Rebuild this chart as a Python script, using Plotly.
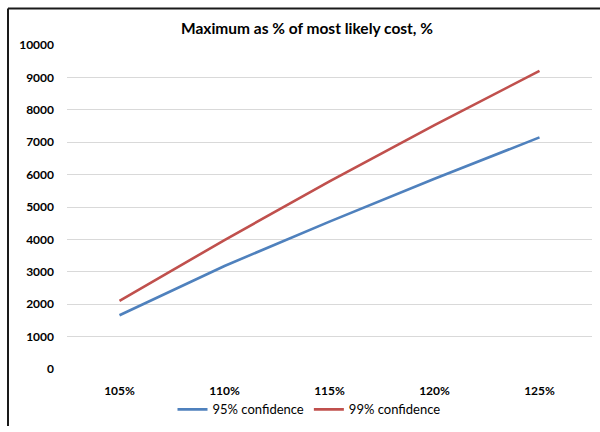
import plotly.graph_objects as go

# Allowance levels and the resulting maximum cost
categories = ["105%", "110%", "115%", "120%", "125%"]
conf_95 = [1660, 3180, 4550, 5870, 7150]
conf_99 = [2100, 3980, 5790, 7530, 9200]
y_ticks = list(range(0, 10001, 1000))

W, H = 600, 432
L, R, T, B = 67, 8, 45, 58
plot_w = W - L - R
plot_h = H - T - B


def px_x(x):
    return (x - L) / plot_w


def px_y(y):
    return (H - B - y) / plot_h


fig = go.Figure()
fig.add_trace(go.Scatter(x=categories, y=conf_95, mode="lines", name="95% confidence",
                         line=dict(color="#4f81bd", width=2.6)))
fig.add_trace(go.Scatter(x=categories, y=conf_99, mode="lines", name="99% confidence",
                         line=dict(color="#c0504d", width=2.6)))

font_family = "Lato, 'Open Sans', sans-serif"

# chart-area frame: only its left and top edges fall inside the page
frame = dict(color="#1a1a1a", width=2)
fig.update_layout(
    width=W, height=H,
    margin=dict(l=L, r=R, t=T, b=B),
    paper_bgcolor="white", plot_bgcolor="white",
    showlegend=True,
    legend=dict(orientation="h", x=px_x(309), xanchor="center", y=px_y(415), yanchor="middle",
                font=dict(family=font_family, size=13, color="#000000"),
                itemwidth=30, tracegroupgap=0, bgcolor="rgba(0,0,0,0)"),
    annotations=[dict(text="<b>Maximum as % of most likely cost, %</b>", xref="paper", yref="paper",
                      x=px_x(307), y=px_y(28), xanchor="center", yanchor="middle", showarrow=False,
                      font=dict(family=font_family, size=15.5, color="#000000"))],
    shapes=[
        dict(type="line", xref="paper", yref="paper", x0=px_x(8), x1=px_x(8),
             y0=px_y(8), y1=px_y(432), line=frame),
        dict(type="line", xref="paper", yref="paper", x0=px_x(8), x1=px_x(600),
             y0=px_y(8), y1=px_y(8), line=frame),
    ],
)

fig.update_xaxes(type="category", range=[-0.5, 4.5], showgrid=False, zeroline=False,
                 showline=False, ticks="", ticklabelstandoff=13,
                 tickfont=dict(family=font_family, size=12, color="#000000", weight="bold"))
fig.update_yaxes(range=[0, 10000], tickvals=y_ticks, ticktext=[str(v) for v in y_ticks],
                 showgrid=True, gridcolor="#d9d9d9", gridwidth=1, zeroline=False,
                 showline=False, ticks="", ticklabelstandoff=12,
                 tickfont=dict(family=font_family, size=12, color="#000000", weight="bold"))

fig.write_html("out.html")
